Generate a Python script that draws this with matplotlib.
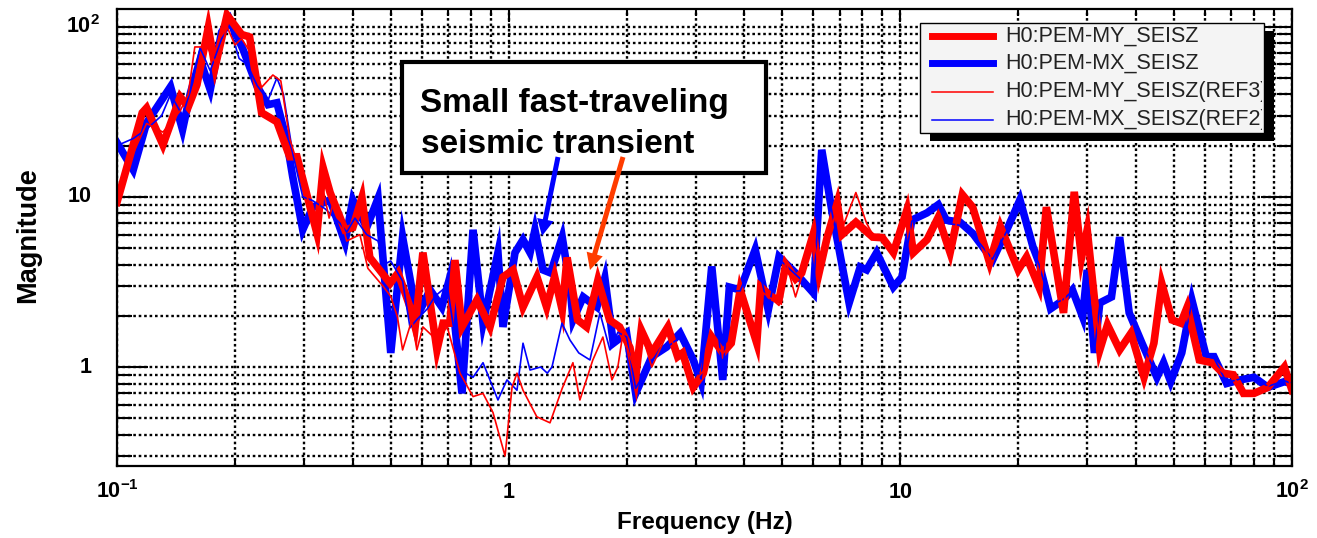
import matplotlib
matplotlib.use('Agg')
import matplotlib.pyplot as plt
from matplotlib.patches import Rectangle, FancyArrowPatch
from matplotlib.lines import Line2D
from matplotlib.transforms import Bbox, TransformedBbox

plt.rcParams['font.family'] = ['Liberation Sans', 'DejaVu Sans']
plt.rcParams['mathtext.fontset'] = 'custom'
plt.rcParams['mathtext.rm'] = 'Liberation Sans:bold'
plt.rcParams['mathtext.it'] = 'Liberation Sans:bold'
plt.rcParams['mathtext.bf'] = 'Liberation Sans:bold'

# ---------------- data ----------------
my_freq = [0.100, 0.116, 0.119, 0.131, 0.145, 0.152, 0.160, 0.171, 0.178, 0.191,
           0.208, 0.218, 0.234, 0.256, 0.276, 0.288, 0.324, 0.336, 0.350, 0.382,
           0.400, 0.422, 0.442, 0.469, 0.498, 0.522, 0.560, 0.577, 0.604, 0.656,
           0.680, 0.708, 0.729, 0.760, 0.830, 0.896, 0.967, 1.026, 1.088, 1.181,
           1.250, 1.310, 1.370, 1.410, 1.500, 1.580, 1.690, 1.810, 1.920, 2.040,
           2.110, 2.180, 2.320, 2.550, 2.700, 2.780, 2.960, 3.140, 3.300, 3.520,
           3.700, 3.900, 4.300, 4.400, 4.700, 4.900, 5.100, 5.400, 5.600, 6.000,
           6.200, 6.500, 6.900, 7.100, 7.700, 8.500, 9.000, 9.600, 10.40, 10.80,
           11.70, 12.50, 13.40, 14.40, 15.30, 16.90, 18.00, 20.00, 21.00, 22.60,
           23.60, 26.10, 27.80, 29.00, 30.00, 32.30, 33.80, 36.30, 38.80, 41.90,
           44.40, 46.50, 49.40, 52.00, 54.00, 58.00, 62.60, 66.60, 70.80, 75.20,
           80.00, 86.80, 95.60, 100.0]
my_mag = [9.3, 31.2, 33.3, 20.2, 38.7, 33.8, 45.6, 98.6, 58.0, 117.0,
          90.0, 87.0, 31.2, 27.6, 17.2, 17.2, 6.1, 14.8, 10.6, 6.4,
          6.6, 9.9, 4.4, 3.7, 3.1, 3.57, 2.25, 1.72, 4.7, 1.26,
          1.81, 1.81, 4.25, 1.72, 2.48, 1.72, 3.38, 3.72, 2.25, 3.38,
          2.25, 3.4, 2.16, 4.4, 1.89, 1.72, 3.24, 1.89, 1.72, 1.30,
          0.87, 1.65, 1.21, 1.72, 1.15, 1.21, 0.76, 0.92, 1.5, 1.21,
          1.38, 2.84, 1.38, 2.95, 2.58, 2.48, 4.0, 3.3, 3.57, 6.1,
          3.57, 5.75, 9.2, 6.0, 7.1, 5.8, 5.75, 4.7, 8.4, 4.7,
          5.6, 7.6, 4.7, 10.3, 8.7, 4.1, 6.7, 3.72, 4.44, 2.95,
          8.7, 2.08, 10.7, 4.37, 6.4, 1.26, 1.77, 1.26, 1.58, 0.87,
          1.38, 3.1, 1.89, 1.81, 2.25, 1.1, 1.06, 0.92, 0.9, 0.70,
          0.70, 0.76, 1.0, 0.73]

mx_freq = [0.100, 0.110, 0.119, 0.137, 0.147, 0.154, 0.163, 0.173, 0.185, 0.194,
           0.210, 0.228, 0.243, 0.256, 0.271, 0.281, 0.298, 0.316, 0.350, 0.382,
           0.400, 0.434, 0.464, 0.500, 0.536, 0.583, 0.630, 0.675, 0.708, 0.760,
           0.811, 0.860, 0.939, 0.967, 1.038, 1.088, 1.134, 1.167, 1.224, 1.280,
           1.370, 1.434, 1.460, 1.550, 1.680, 1.760, 1.850, 2.000, 2.110, 2.320,
           2.530, 2.740, 2.960, 3.100, 3.300, 3.520, 3.660, 3.900, 4.260, 4.600,
           4.900, 5.400, 6.000, 6.300, 6.700, 7.400, 7.900, 8.200, 8.700, 9.600,
           10.10, 10.70, 11.70, 12.50, 13.10, 14.20, 15.30, 17.20, 18.70, 20.20,
           21.80, 22.60, 24.20, 26.10, 27.50, 29.20, 30.00, 31.30, 32.30, 34.60,
           36.30, 38.40, 41.40, 45.20, 47.00, 49.00, 52.30, 55.50, 60.40, 63.20,
           68.10, 73.70, 80.00, 86.80, 95.60, 100.0]
mx_mag = [20.8, 14.4, 27.2, 44.4, 24.8, 40.8, 64.0, 42.6, 93.0, 110.0,
          73.0, 44.4, 34.8, 35.7, 21.6, 13.1, 6.4, 8.7, 9.6, 5.4,
          9.6, 6.6, 9.8, 1.21, 5.8, 1.97, 2.84, 2.25, 3.38, 0.70,
          6.4, 1.81, 4.7, 1.72, 4.7, 5.6, 4.7, 6.4, 3.72, 3.57,
          5.8, 3.0, 1.89, 2.58, 2.25, 3.33, 1.38, 1.58, 0.70, 1.15,
          1.31, 1.58, 1.1, 0.81, 3.9, 0.84, 2.95, 2.84, 4.9, 2.16,
          4.44, 3.57, 2.72, 18.9, 8.05, 2.38, 3.87, 3.72, 4.7, 2.95,
          3.38, 7.3, 8.05, 9.0, 7.3, 7.1, 6.1, 4.25, 6.4, 9.6,
          5.1, 4.1, 2.2, 2.48, 2.84, 1.97, 3.72, 1.21, 2.38, 2.58,
          5.8, 2.08, 1.38, 0.87, 1.06, 0.82, 1.21, 2.48, 1.15, 1.15,
          0.80, 0.84, 0.87, 0.76, 0.82, 0.80]

my_ref_freq = [0.100, 0.110, 0.119, 0.131, 0.145, 0.152, 0.158, 0.170, 0.178, 0.186,
               0.191, 0.200, 0.208, 0.218, 0.234, 0.250, 0.262, 0.276, 0.288, 0.310,
               0.324, 0.336, 0.348, 0.360, 0.386, 0.417, 0.437, 0.477, 0.500, 0.520,
               0.536, 0.566, 0.583, 0.604, 0.655, 0.697, 0.751, 0.811, 0.860, 0.912,
               0.979, 1.020, 1.050, 1.088, 1.180, 1.275, 1.370, 1.459, 1.520, 1.640,
               1.740, 1.835, 1.900, 1.958, 2.110, 2.180, 2.320, 2.550, 2.700, 2.780,
               2.960, 3.140, 3.300, 3.520, 3.700, 3.900, 4.100, 4.300, 4.400, 4.700,
               4.900, 5.100, 5.400, 5.600, 6.000, 6.200, 6.500, 6.900, 7.100, 7.700,
               8.200, 8.500, 9.000, 9.600, 10.40, 10.80, 11.70, 12.50, 13.40, 14.40,
               15.30, 16.90, 18.00, 20.00, 21.00, 22.60, 23.60, 26.10, 27.80, 29.00,
               30.00, 32.30, 33.80, 36.30, 38.80, 41.90, 44.40, 46.50, 49.40, 52.00,
               54.00, 56.00, 58.00, 62.60, 66.60, 70.80, 75.20, 80.00, 86.80, 95.60,
               100.0]
my_ref_mag = [9.5, 18.0, 27.0, 24.0, 32.0, 40.0, 76.0, 76.0, 62.0, 80.0,
              100.0, 78.0, 85.0, 72.0, 44.0, 52.0, 48.0, 22.0, 16.0, 9.0,
              7.5, 11.0, 7.5, 10.0, 5.5, 6.0, 3.8, 3.0, 2.6, 1.97,
              1.26, 1.89, 1.26, 1.72, 1.44, 1.72, 0.92, 0.67, 0.70, 0.54,
              0.30, 0.76, 0.92, 0.73, 0.51, 0.47, 0.75, 1.06, 0.64, 1.10,
              1.50, 0.84, 1.00, 1.58, 0.90, 1.60, 1.00, 1.60, 1.20, 1.15,
              0.80, 0.95, 1.45, 1.20, 1.35, 2.60, 1.81, 1.45, 2.80, 2.50,
              2.30, 4.20, 2.58, 3.40, 5.80, 3.80, 5.50, 8.50, 6.50, 10.6,
              7.0, 6.0, 6.0, 4.8, 8.2, 4.9, 5.5, 7.4, 4.8, 10.0,
              8.5, 4.2, 6.5, 3.8, 4.3, 3.0, 8.5, 2.1, 10.3, 4.5,
              6.2, 1.3, 1.75, 1.3, 1.55, 0.90, 1.40, 3.0, 1.9, 1.85,
              2.2, 1.5, 1.1, 1.05, 0.93, 0.88, 0.71, 0.70, 0.77, 1.0,
              0.74]

mx_ref_freq = [0.100, 0.110, 0.119, 0.130, 0.137, 0.147, 0.154, 0.163, 0.173, 0.185,
               0.194, 0.205, 0.215, 0.228, 0.243, 0.256, 0.266, 0.281, 0.298, 0.316,
               0.340, 0.371, 0.386, 0.405, 0.434, 0.464, 0.480, 0.500, 0.536, 0.560,
               0.583, 0.620, 0.648, 0.697, 0.751, 0.811, 0.860, 0.939, 0.990, 1.050,
               1.088, 1.134, 1.207, 1.255, 1.290, 1.368, 1.434, 1.510, 1.613, 1.710,
               1.814, 1.900, 2.000, 2.110, 2.320, 2.530, 2.740, 2.960, 3.100, 3.300,
               3.520, 3.660, 3.900, 4.260, 4.600, 4.900, 5.400, 6.000, 6.300, 6.700,
               7.400, 7.900, 8.200, 8.700, 9.600, 10.10, 10.70, 11.70, 12.50, 13.10,
               14.20, 15.30, 17.20, 18.70, 20.20, 21.80, 22.60, 24.20, 26.10, 27.50,
               29.20, 30.00, 31.30, 32.30, 34.60, 36.30, 38.40, 41.40, 45.20, 47.00,
               49.00, 52.30, 55.50, 60.40, 63.20, 68.10, 73.70, 80.00, 86.80, 95.60,
               100.0]
mx_ref_mag = [20.0, 22.0, 25.0, 30.0, 40.0, 30.0, 42.0, 75.0, 55.0, 85.0,
              100.0, 65.0, 60.0, 45.0, 37.0, 50.0, 40.0, 18.0, 10.0, 9.5,
              8.5, 7.0, 6.2, 7.5, 6.0, 5.5, 4.0, 4.2, 3.2, 1.7,
              1.9, 2.2, 2.6, 3.0, 0.96, 0.87, 1.06, 0.64, 0.84, 0.73,
              1.38, 0.96, 1.00, 0.92, 1.00, 1.81, 1.44, 1.21, 1.10, 2.08,
              1.26, 1.60, 1.50, 0.75, 1.10, 1.30, 1.50, 1.10, 0.85, 3.70,
              0.90, 2.80, 2.80, 4.70, 2.20, 4.30, 3.50, 2.80, 17.0, 8.0,
              2.5, 3.9, 3.6, 4.6, 3.0, 3.4, 7.2, 8.0, 8.8, 7.0,
              6.8, 6.0, 4.3, 6.3, 9.3, 5.0, 4.0, 2.3, 2.5, 2.8,
              2.0, 3.6, 1.25, 2.3, 2.6, 5.6, 2.1, 1.4, 0.88, 1.05,
              0.83, 1.2, 2.4, 1.15, 1.13, 0.81, 0.85, 0.86, 0.77, 0.83,
              0.80]

series_labels = ['H0:PEM-MY_SEISZ', 'H0:PEM-MX_SEISZ',
                 'H0:PEM-MY_SEISZ(REF3)', 'H0:PEM-MX_SEISZ(REF2)']
xtick_vals = [0.1, 1, 10, 100]
xtick_labels = [r'$10^{-1}$', '1', '10', r'$10^{2}$']
ytick_vals = [1, 10, 100]
ytick_labels = ['1', '10', r'$10^{2}$']
annotation_lines = ['Small fast-traveling', 'seismic transient']

for a, b in [(my_freq, my_mag), (mx_freq, mx_mag),
             (my_ref_freq, my_ref_mag), (mx_ref_freq, mx_ref_mag)]:
    assert len(a) == len(b), (len(a), len(b))

# ---------------- figure ----------------
W, H = 1317, 538
fig = plt.figure(figsize=(W / 100, H / 100), dpi=100)


def fx(px):
    return px / W


def fy(py):
    return 1 - py / H


ax = fig.add_axes([fx(117), fy(466), (1292 - 117) / W, (466 - 9) / H])
ax.set_xscale('log')
ax.set_yscale('log')

RED, BLUE = '#ff0000', '#0000ff'
ax.plot(mx_freq, mx_mag, color=BLUE, lw=5.5, solid_joinstyle='miter', zorder=3)
ax.plot(my_freq, my_mag, color=RED, lw=5.5, solid_joinstyle='miter', zorder=4)
ax.plot(mx_ref_freq, mx_ref_mag, color=BLUE, lw=1.2, zorder=5)
ax.plot(my_ref_freq, my_ref_mag, color=RED, lw=1.2, zorder=6)

ax.set_xlim(0.1, 100)
ax.set_ylim(0.262, 127)

ax.grid(True, which='both', color='black', linestyle=(0, (1.1, 1.2)), linewidth=1.7)
for s in ax.spines.values():
    s.set_linewidth(1.6)
    s.set_zorder(7)

ax.tick_params(which='both', direction='in', top=True, right=True, width=1.5,
               labelbottom=False, labelleft=False)
ax.tick_params(axis='y', which='major', length=22)
ax.tick_params(axis='y', which='minor', length=11)
ax.tick_params(axis='x', which='major', length=9)
ax.tick_params(axis='x', which='minor', length=5)

TICKFS = 15.5
for v, lab in zip(xtick_vals, xtick_labels):
    ax.annotate(lab, xy=(v, 0), xycoords=ax.get_xaxis_transform(),
                xytext=(0, -23), textcoords='offset points',
                ha='center', va='baseline', fontsize=TICKFS, fontweight='bold',
                annotation_clip=False)
for v, lab in zip(ytick_vals, ytick_labels):
    off = -12 if '^' in lab else -18
    ax.annotate(lab, xy=(0, v), xycoords=ax.get_yaxis_transform(),
                xytext=(off, 0), textcoords='offset points',
                ha='right', va='center', fontsize=TICKFS, fontweight='bold',
                annotation_clip=False)

fig.text(fx(705), fy(522), 'Frequency (Hz)', ha='center', va='center',
         fontsize=17.5, fontweight='bold')
fig.text(fx(28), fy(235), 'Magnitude', ha='center', va='center', rotation=90,
         fontsize=19.5, fontweight='bold')

# ---------------- legend (manual, clipped like the original) ----------------
lx0, ly0, lx1, ly1 = 920, 23, 1264, 133
shadow = Rectangle((fx(lx0 + 10), fy(ly1 + 8)), (lx1 - lx0) / W, (ly1 - ly0) / H,
                   transform=fig.transFigure, facecolor='black', edgecolor='none',
                   zorder=10)
box = Rectangle((fx(lx0), fy(ly1)), (lx1 - lx0) / W, (ly1 - ly0) / H,
                transform=fig.transFigure, facecolor='#f4f4f4', edgecolor='black',
                lw=1.0, zorder=11)
fig.add_artist(shadow)
fig.add_artist(box)
clipbox = TransformedBbox(Bbox([[fx(lx0 + 1), fy(ly1 - 1)], [fx(lx1 - 2), fy(ly0 + 1)]]),
                          fig.transFigure)
leg_rows = [36, 63, 92, 120]
leg_colors = [RED, BLUE, RED, BLUE]
leg_lw = [5, 5, 1.1, 1.1]
for lab, yy, c, lw in zip(series_labels, leg_rows, leg_colors, leg_lw):
    fig.add_artist(Line2D([fx(932), fx(993)], [fy(yy), fy(yy)], color=c, lw=lw,
                          transform=fig.transFigure, zorder=12))
    t = fig.text(fx(1005), fy(yy), lab, ha='left', va='center', fontsize=15.5,
                 color='#222222', zorder=12)
    t.set_clip_box(clipbox)
    t.set_clip_on(True)

# ---------------- annotation ----------------
ann = Rectangle((fx(402), fy(173)), (766 - 402) / W, (173 - 62) / H,
                transform=fig.transFigure, facecolor='white', edgecolor='black',
                lw=3, zorder=10)
fig.add_artist(ann)
fig.text(fx(420), fy(112), annotation_lines[0], ha='left', va='baseline',
         fontsize=24, fontweight='bold', zorder=11)
fig.text(fx(421), fy(153), annotation_lines[1], ha='left', va='baseline',
         fontsize=24, fontweight='bold', zorder=11)

for (x0, y0, x1, y1, col) in [(558, 157, 542, 236, BLUE), (623, 157, 590, 270, '#ff3c00')]:
    arr = FancyArrowPatch((fx(x0), fy(y0)), (fx(x1), fy(y1)), transform=fig.transFigure,
                          arrowstyle='simple,head_width=12,head_length=12,tail_width=3.6',
                          mutation_scale=1, shrinkA=0, shrinkB=0, color=col, lw=0,
                          zorder=13)
    fig.add_artist(arr)

fig.savefig('out.png', dpi=100)
